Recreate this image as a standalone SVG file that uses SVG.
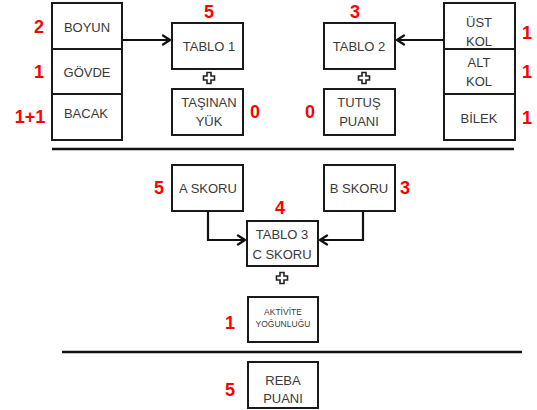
<svg xmlns="http://www.w3.org/2000/svg" width="537" height="410" viewBox="0 0 537 410">
<defs>
<marker id="arr" viewBox="0 0 12 12" refX="10" refY="6" markerWidth="12" markerHeight="12" markerUnits="userSpaceOnUse" orient="auto">
<path d="M3,1.5 L10,6 L3,10.5" fill="none" stroke="#111" stroke-width="2.2" stroke-linecap="round" stroke-linejoin="round"/>
</marker>
<path id="plus" d="M-2,-5.5 H2 V-2 H5.5 V2 H2 V5.5 H-2 V2 H-5.5 V-2 H-2 Z" fill="#fff" stroke="#222" stroke-width="1.6"/>
</defs>
<style>
.box{fill:#fff;stroke:#1a1a1a;stroke-width:2}
.t{font-family:"Liberation Sans",Arial,sans-serif;font-size:13px;fill:#3a3a3a;text-anchor:middle}
.s{font-size:8.5px}
.n{font-family:"Liberation Sans",Arial,sans-serif;font-size:18px;font-weight:bold;fill:#ff0000;text-anchor:middle}
.c{fill:none;stroke:#111;stroke-width:2.2}
.sep{stroke:#111;stroke-width:2.5}
</style>
<rect width="537" height="410" fill="#fff"/>

<g id="left-column">
<rect class="box" x="52" y="3" width="70" height="46"/>
<rect class="box" x="52" y="49" width="70" height="45"/>
<rect class="box" x="52" y="94" width="70" height="46"/>
<text class="t" x="87" y="32">BOYUN</text>
<text class="t" x="87" y="77">GÖVDE</text>
<text class="t" x="86" y="118">BACAK</text>
<text class="n" x="39" y="33">2</text>
<text class="n" x="39" y="78">1</text>
<text class="n" x="30" y="123">1+1</text>
</g>

<g id="tablo1">
<rect class="box" x="172" y="23" width="71" height="46"/>
<text class="t" x="209" y="51">TABLO 1</text>
<text class="n" x="209" y="18">5</text>
</g>
<use href="#plus" x="209" y="78"/>
<g id="tasinan-yuk">
<rect class="box" x="172" y="89" width="71" height="46"/>
<text class="t" x="209" y="107">TAŞINAN</text>
<text class="t" x="209" y="126">YÜK</text>
<text class="n" x="255" y="118">0</text>
</g>

<g id="tablo2">
<rect class="box" x="324" y="23" width="71" height="46"/>
<text class="t" x="359" y="51">TABLO 2</text>
<text class="n" x="355" y="18">3</text>
</g>
<use href="#plus" x="364" y="78"/>
<g id="tutus-puani">
<rect class="box" x="324" y="89" width="71" height="46"/>
<text class="t" x="359" y="107">TUTUŞ</text>
<text class="t" x="359" y="126">PUANI</text>
<text class="n" x="310" y="118">0</text>
</g>

<g id="right-column">
<rect class="box" x="444" y="3" width="71" height="46"/>
<rect class="box" x="444" y="49" width="71" height="45"/>
<rect class="box" x="444" y="94" width="71" height="46"/>
<text class="t" x="479" y="27">ÜST</text>
<text class="t" x="479" y="46">KOL</text>
<text class="t" x="479" y="67">ALT</text>
<text class="t" x="479" y="86">KOL</text>
<text class="t" x="479" y="123">BİLEK</text>
<text class="n" x="527" y="39">1</text>
<text class="n" x="527" y="78">1</text>
<text class="n" x="527" y="124">1</text>
</g>

<g id="a-skoru">
<rect class="box" x="172" y="165" width="71" height="46"/>
<text class="t" x="208" y="193">A SKORU</text>
<text class="n" x="159" y="194">5</text>
</g>
<g id="b-skoru">
<rect class="box" x="324" y="165" width="71" height="46"/>
<text class="t" x="359" y="193">B SKORU</text>
<text class="n" x="405" y="194">3</text>
</g>
<g id="tablo3">
<rect class="box" x="247" y="221" width="71" height="45"/>
<text class="t" x="282" y="239">TABLO 3</text>
<text class="t" x="282" y="259">C SKORU</text>
<text class="n" x="280" y="214">4</text>
</g>
<use href="#plus" x="282" y="278"/>
<g id="aktivite">
<rect class="box" x="248" y="297" width="70" height="45"/>
<text class="t s" x="283" y="315">AKTİVİTE</text>
<text class="t s" x="283" y="327">YOĞUNLUĞU</text>
<text class="n" x="230" y="329">1</text>
</g>
<g id="reba">
<rect class="box" x="248" y="362" width="70" height="46"/>
<text class="t" x="283" y="385">REBA</text>
<text class="t" x="283" y="403">PUANI</text>
<text class="n" x="230" y="396">5</text>
</g>

<g id="connectors">
<line class="c" x1="122" y1="40" x2="170" y2="40" marker-end="url(#arr)"/>
<line class="c" x1="444" y1="40" x2="397" y2="40" marker-end="url(#arr)"/>
<polyline class="c" points="208,211 208,240 245,240" marker-end="url(#arr)"/>
<polyline class="c" points="363,211 363,240 320,240" marker-end="url(#arr)"/>
<line class="sep" x1="52" y1="149" x2="514" y2="149"/>
<line class="sep" x1="62" y1="352" x2="522" y2="352"/>
</g>
</svg>
